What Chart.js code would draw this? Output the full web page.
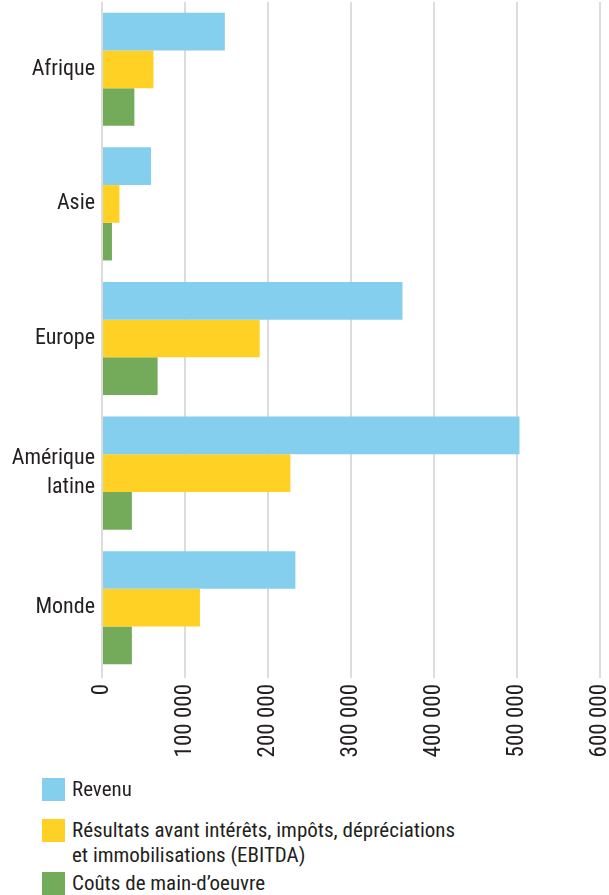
<!DOCTYPE html>
<html lang="fr">
<head>
<meta charset="utf-8">
<script src="https://cdn.jsdelivr.net/npm/chart.js@4/dist/chart.umd.min.js"></script>
<style>
  html, body { margin: 0; padding: 0; background: #fff; }
  #wrap { position: relative; width: 609px; height: 895px; overflow: hidden; }
  #chart { position: absolute; left: 0; top: 0; }
  .leg-item { position: absolute; left: 42px; display: flex; align-items: flex-start;
              font-family: "Liberation Sans Narrow", "Roboto Condensed", Roboto, sans-serif;
              font-size: 21px; line-height: 25px; color: #231f20; }
  .leg-box { width: 23px; height: 23px; margin-top: 1px; margin-right: 7px; flex: none; }
</style>
</head>
<body>
<div id="wrap">
  <canvas id="chart" width="609" height="780"></canvas>
  <div id="legend"></div>
</div>
<script>
// ==========================
// Data
// ==========================
const categories = ['Afrique', 'Asie', 'Europe', ['Amérique', 'latine'], 'Monde'];
const revenu     = [148000, 59000, 362000, 503000, 233000];
const ebitda     = [62000, 21000, 190000, 227000, 118000];
const mainOeuvre = [39000, 12000, 67000, 36000, 36000];
const xTicks     = [0, 100000, 200000, 300000, 400000, 500000, 600000];

const seriesNames = [
  ['Revenu'],
  ['Résultats avant intérêts, impôts, dépréciations', 'et immobilisations (EBITDA)'],
  ['Coûts de main-d’oeuvre']
];
const seriesColors = ['#85CFEE', '#FFD124', '#74AB5A'];

const FONT = '"Liberation Sans Narrow", "Roboto Condensed", Roboto, sans-serif';
const TEXT = '#231f20';

// 100000 -> "100 000"
function fmt(v) {
  return String(v).replace(/\B(?=(\d{3})+(?!\d))/g, ' ');
}

const ctx = document.getElementById('chart').getContext('2d');
const chart = new Chart(ctx, {
  type: 'bar',
  data: {
    labels: categories,
    datasets: [revenu, ebitda, mainOeuvre].map((d, i) => ({
      label: seriesNames[i].join(' '),
      data: d,
      backgroundColor: seriesColors[i],
      borderWidth: 0,
      barPercentage: 1,
      categoryPercentage: 0.84
    }))
  },
  options: {
    indexAxis: 'y',
    responsive: false,
    animation: false,
    devicePixelRatio: 1,
    layout: { padding: { top: 2, right: 9, left: 0, bottom: 0 } },
    plugins: {
      legend: { display: false },
      tooltip: { enabled: false }
    },
    scales: {
      x: {
        min: xTicks[0],
        max: xTicks[xTicks.length - 1],
        afterBuildTicks: s => { s.ticks = xTicks.map(v => ({ value: v })); },
        // fixed axis height, no extra side padding for the rotated labels
        afterFit: s => { s.height = 105; s.paddingLeft = 0; s.paddingRight = 0; },
        border: { display: false },
        grid: { color: '#dcdcdc', lineWidth: 2, tickLength: 3, tickColor: '#dcdcdc' },
        ticks: {
          minRotation: 90,
          maxRotation: 90,
          padding: 6,
          color: TEXT,
          font: { family: FONT, size: 23 },
          callback: v => fmt(v)
        }
      },
      y: {
        afterFit: s => { s.width = 102; s.paddingTop = 0; s.paddingBottom = 0; },
        border: { display: false },
        grid: { display: false, drawTicks: false },
        ticks: {
          padding: 7,
          color: TEXT,
          font: { family: FONT, size: 22, lineHeight: 1.3 }
        }
      }
    }
  }
});

// ==========================
// Legend (HTML, built from the series)
// ==========================
const legendTops = [777, 818, 871];
const legendElem = document.getElementById('legend');
seriesNames.forEach((lines, i) => {
  const item = document.createElement('div');
  item.className = 'leg-item';
  item.style.top = legendTops[i] + 'px';
  const box = document.createElement('span');
  box.className = 'leg-box';
  box.style.background = seriesColors[i];
  const txt = document.createElement('span');
  txt.innerHTML = lines.join('<br>');
  item.appendChild(box);
  item.appendChild(txt);
  legendElem.appendChild(item);
});
</script>
</body>
</html>
